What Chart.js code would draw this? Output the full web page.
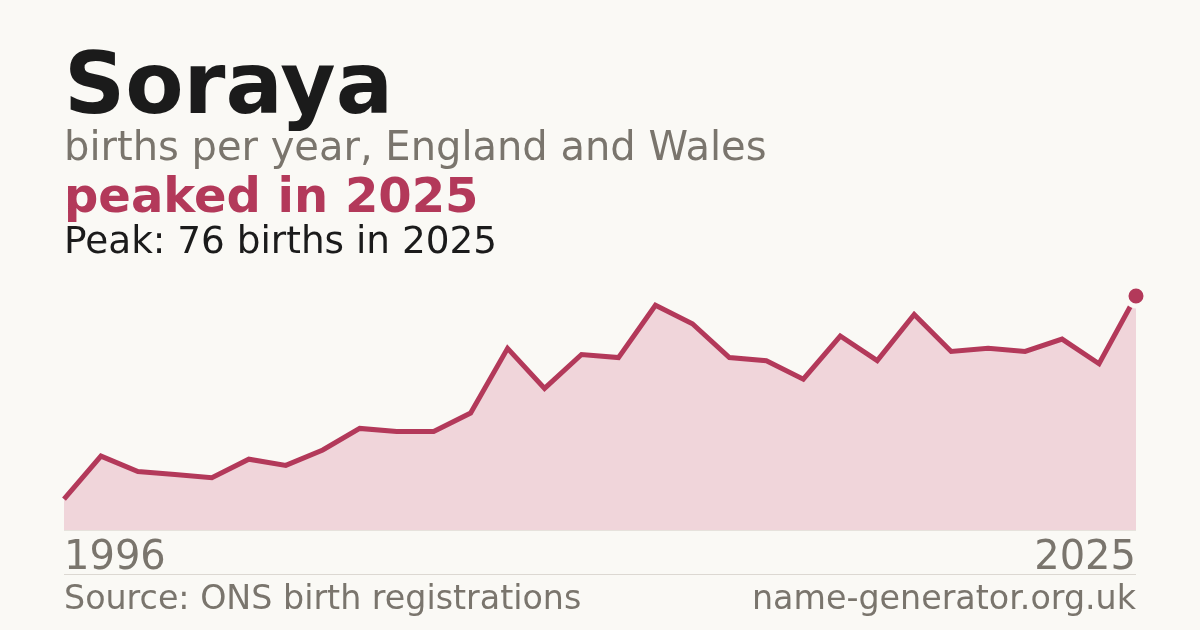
<!DOCTYPE html>
<html>
<head>
<meta charset="utf-8">
<script src="https://cdn.jsdelivr.net/npm/chart.js@4"></script>
<style>
  html, body { margin: 0; padding: 0; background: #faf9f5; }
  #wrap { position: relative; width: 1200px; height: 630px; overflow: hidden; font-family: "DejaVu Sans", sans-serif; }
  #chart { position: absolute; left: 0; top: 0; }
  .t { position: absolute; left: 64px; line-height: 1; white-space: nowrap; }
  #name { top: 41px; font-size: 85px; font-weight: bold; color: #1b1b1b; }
  #sub { top: 126px; font-size: 40px; color: #7a756d; }
  #trend { top: 171px; font-size: 48px; font-weight: bold; color: #b3395a; }
  #peak { top: 222px; font-size: 37.4px; color: #1b1b1b; }
  .yr { top: 535px; font-size: 40px; color: #7a756d; }
  #yr1 { left: 64px; }
  #yr2 { left: auto; right: 64px; }
  .foot { top: 581px; font-size: 33.3px; color: #7a756d; }
  #src { left: 64px; }
  #site { left: auto; right: 64px; }
  .rule { position: absolute; left: 64px; width: 1072px; height: 1px; }
</style>
</head>
<body>
<div id="wrap">
  <canvas id="chart" width="1200" height="630"></canvas>
  <div class="rule" style="top:530px;background:#e6e2dc"></div>
  <div class="rule" style="top:574px;background:#dcd8d2"></div>
  <div class="t" id="name">Soraya</div>
  <div class="t" id="sub">births per year, England and Wales</div>
  <div class="t" id="trend">peaked in 2025</div>
  <div class="t" id="peak"></div>
  <div class="t yr" id="yr1"></div>
  <div class="t yr" id="yr2"></div>
  <div class="t foot" id="src">Source: ONS birth registrations</div>
  <div class="t foot" id="site">name-generator.org.uk</div>
</div>
<script>
// births per year
const years = [1996, 1997, 1998, 1999, 2000, 2001, 2002, 2003, 2004, 2005,
  2006, 2007, 2008, 2009, 2010, 2011, 2012, 2013, 2014, 2015,
  2016, 2017, 2018, 2019, 2020, 2021, 2022, 2023, 2024, 2025];
const births = [10, 24, 19, 18, 17, 23, 21, 26, 33, 32,
  32, 38, 59, 46, 57, 56, 73, 67, 56, 55,
  49, 63, 55, 70, 58, 59, 58, 62, 54, 76];

const peakValue = Math.max(...births);
const peakIndex = births.lastIndexOf(peakValue);

document.getElementById('peak').textContent = `Peak: ${peakValue} births in ${years[peakIndex]}`;
document.getElementById('yr1').textContent = years[0];
document.getElementById('yr2').textContent = years[years.length - 1];

const ctx = document.getElementById('chart').getContext('2d');

new Chart(ctx, {
  type: 'line',
  data: {
    labels: years,
    datasets: [{
      data: births,
      borderColor: '#b3395a',
      backgroundColor: '#f0d5da',
      borderWidth: 5,
      fill: 'origin',
      tension: 0,
      clip: false,
      pointRadius: c => c.dataIndex === peakIndex ? 10 : 0,
      pointBackgroundColor: '#b3395a',
      pointBorderColor: '#faf9f5',
      pointBorderWidth: 5,
      pointHoverRadius: 0
    }]
  },
  options: {
    responsive: false,
    animation: false,
    events: [],
    layout: { padding: { left: 64, right: 64, top: 296, bottom: 100 } },
    plugins: {
      legend: { display: false },
      tooltip: { enabled: false }
    },
    scales: {
      x: { display: false, offset: false },
      y: { display: false, min: 0, max: peakValue }
    }
  }
});
</script>
</body>
</html>
